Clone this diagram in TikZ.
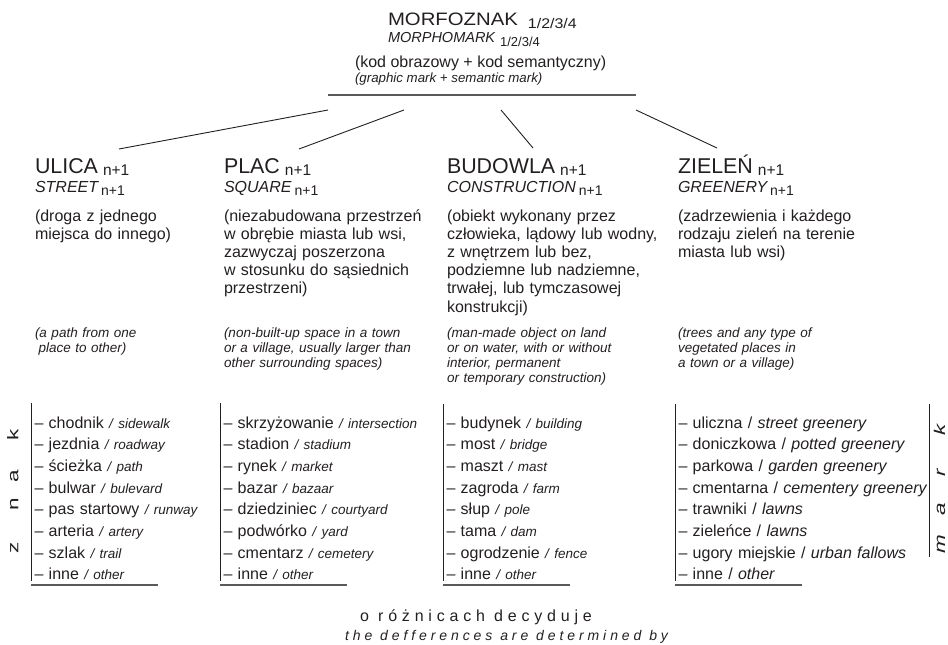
\documentclass[tikz,border=0pt]{standalone}
\usepackage{fontspec}
\setmainfont{Liberation Sans}
\newfontfamily\spacedfont[LetterSpace=30]{Liberation Sans}
\newfontfamily\spacedenfont[LetterSpace=28]{Liberation Sans}
\usepackage{graphicx}
\definecolor{ink}{HTML}{231F20}
\definecolor{rulegray}{HTML}{5A5A5A}
\newcommand{\fs}[2]{\fontsize{#1}{#2}\selectfont}
\newcommand{\en}[1]{{\fs{13.5}{15}\itshape #1}}
\newcommand{\hsub}[2]{\raisebox{-#1}{\fs{#2}{#2}\upshape n+1}}
\newcommand{\stretchl}[1]{\scalebox{1.45}[1]{#1}}
\tikzset{
  txt/.style={inner sep=0pt, outer sep=0pt, anchor=base west, text=ink},
  head/.style={txt, font=\fs{21.4}{21.4}},
  headen/.style={txt, font=\fs{16}{16}\itshape},
  descpl/.style={txt, font=\fs{16}{18.2}, text width=260pt, align=left},
  descen/.style={txt, font=\fs{13.5}{15}\itshape, text width=260pt, align=left},
  listbox/.style={txt, font=\fs{16}{21.7}, text width=270pt, align=left},
  conn/.style={draw=ink, line width=0.9pt},
  vbar/.style={draw=ink, line width=0.9pt},
  uline/.style={draw=rulegray, line width=1.5pt},
  rotl/.style={txt, anchor=base, rotate=90, font=\fs{15.5}{15.5}},
}
\begin{document}
\begin{tikzpicture}[x=1pt, y=-1pt]
\useasboundingbox (0,0) rectangle (948,645);
% title block
\node[txt, font=\fs{18}{18}] (title) at (388,25)
  {\scalebox{1.13}[1]{MORFOZNAK}\hspace{10pt}\raisebox{-3pt}{\scalebox{1.14}[1]{\fs{14}{14}1/2/3/4}}};
\node[txt, font=\fs{14.5}{14.5}\itshape] (titleen) at (388,42)
  {MORPHOMARK\hspace{5pt}\raisebox{-4pt}{\fs{13}{13}\upshape 1/2/3/4}};
\node[txt, font=\fs{16}{16}] (code) at (355,67) {(kod obrazowy + kod semantyczny)};
\node[txt, font=\fs{13.3}{13.3}\itshape] (codeen) at (355,82) {(graphic mark + semantic mark)};
\coordinate (tl) at (328,95);
\coordinate (tr) at (636,95);
\draw[uline] (tl) -- (tr);
% connectors
\coordinate (c1a) at (328,110); \coordinate (c1b) at (119,149);
\coordinate (c2a) at (404,110); \coordinate (c2b) at (299,149);
\coordinate (c3a) at (501,110); \coordinate (c3b) at (533,148);
\coordinate (c4a) at (636,110); \coordinate (c4b) at (717,148);
\draw[conn] (c1a) -- (c1b);
\draw[conn] (c2a) -- (c2b);
\draw[conn] (c3a) -- (c3b);
\draw[conn] (c4a) -- (c4b);
% headings
\node[head] (h1) at (35,173) {ULICA\hspace{5pt}\hsub{2pt}{15.5}};
\node[head] (h2) at (224,173) {PLAC\hspace{5pt}\hsub{2pt}{15.5}};
\node[head] (h3) at (447,173) {BUDOWLA\hspace{5pt}\hsub{2pt}{15.5}};
\node[head] (h4) at (678,173) {ZIELEŃ\hspace{5pt}\hsub{2pt}{15.5}};
\node[headen] (e1) at (35,192) {STREET\hspace{3pt}\hsub{3pt}{14}};
\node[headen] (e2) at (224,192) {SQUARE\hspace{3pt}\hsub{3pt}{14}};
\node[headen] (e3) at (447,192) {CONSTRUCTION\hspace{3pt}\hsub{3pt}{14}};
\node[headen] (e4) at (678,192) {GREENERY\hspace{3pt}\hsub{3pt}{14}};
% polish descriptions
\node[descpl] (d1) at (35,221) {(droga z jednego\\miejsca do innego)};
\node[descpl] (d2) at (224,221) {(niezabudowana przestrzeń\\w obrębie miasta lub wsi,\\zazwyczaj poszerzona\\w stosunku do sąsiednich\\przestrzeni)};
\node[descpl] (d3) at (447,221) {(obiekt wykonany przez\\człowieka, lądowy lub wodny,\\z wnętrzem lub bez,\\podziemne lub nadziemne,\\trwałej, lub tymczasowej\\konstrukcji)};
\node[descpl] (d4) at (678,221) {(zadrzewienia i każdego\\rodzaju zieleń na terenie\\miasta lub wsi)};
% english descriptions
\node[descen] (n1) at (35,337.5) {(a path from one\\\hspace*{3.5pt}place to other)};
\node[descen] (n2) at (224,337.5) {(non-built-up space in a town\\or a village, usually larger than\\other surrounding spaces)};
\node[descen] (n3) at (447,337.5) {(man-made object on land\\or on water, with or without\\interior, permanent\\or temporary construction)};
\node[descen] (n4) at (678,337.5) {(trees and any type of\\vegetated places in\\a town or a village)};
% lists
\node[listbox] (l1) at (34.5,428) {– chodnik \en{/ sidewalk}\\– jezdnia \en{/ roadway}\\– ścieżka \en{/ path}\\– bulwar \en{/ bulevard}\\– pas startowy \en{/ runway}\\– arteria \en{/ artery}\\– szlak \en{/ trail}\\– inne \en{/ other}};
\node[listbox] (l2) at (223.5,428) {– skrzyżowanie \en{/ intersection}\\– stadion \en{/ stadium}\\– rynek \en{/ market}\\– bazar \en{/ bazaar}\\– dziedziniec \en{/ courtyard}\\– podwórko \en{/ yard}\\– cmentarz \en{/ cemetery}\\– inne \en{/ other}};
\node[listbox] (l3) at (446.5,428) {– budynek \en{/ building}\\– most \en{/ bridge}\\– maszt \en{/ mast}\\– zagroda \en{/ farm}\\– słup \en{/ pole}\\– tama \en{/ dam}\\– ogrodzenie \en{/ fence}\\– inne \en{/ other}};
\node[listbox] (l4) at (678.5,428) {– uliczna / \textit{street greenery}\\– doniczkowa / \textit{potted greenery}\\– parkowa / \textit{garden greenery}\\– cmentarna / \textit{cementery greenery}\\– trawniki / \textit{lawns}\\– zieleńce / \textit{lawns}\\– ugory miejskie / \textit{urban fallows}\\– inne / \textit{other}};
% bars and underlines
\coordinate (b1t) at (31,403); \coordinate (b1b) at (31,581);
\coordinate (b2t) at (220,403); \coordinate (b2b) at (220,581);
\coordinate (b3t) at (443,404); \coordinate (b3b) at (443,581);
\coordinate (b4t) at (675,404); \coordinate (b4b) at (675,581);
\coordinate (b5t) at (929,404); \coordinate (b5b) at (929,557);
\draw[vbar] (b1t) -- (b1b);
\draw[vbar] (b2t) -- (b2b);
\draw[vbar] (b3t) -- (b3b);
\draw[vbar] (b4t) -- (b4b);
\draw[vbar] (b5t) -- (b5b);
\coordinate (u1a) at (31,585); \coordinate (u1b) at (158,585);
\coordinate (u2a) at (220,585); \coordinate (u2b) at (347,585);
\coordinate (u3a) at (443,585); \coordinate (u3b) at (570,585);
\coordinate (u4a) at (675,585); \coordinate (u4b) at (802,585);
\draw[uline] (u1a) -- (u1b);
\draw[uline] (u2a) -- (u2b);
\draw[uline] (u3a) -- (u3b);
\draw[uline] (u4a) -- (u4b);
% rotated words
\node[rotl] (zk) at (18.3,435) {\stretchl{k}};
\node[rotl] (za) at (18.3,476.5) {\stretchl{a}};
\node[rotl] (zn) at (18.3,504) {\stretchl{n}};
\node[rotl] (zz) at (18.3,547.5) {\stretchl{z}};
\node[rotl, font=\fs{15.5}{15.5}\itshape] (mk) at (945,430) {\stretchl{k}};
\node[rotl, font=\fs{15.5}{15.5}\itshape] (mr) at (945,472.5) {\stretchl{r}};
\node[rotl, font=\fs{15.5}{15.5}\itshape] (ma) at (945,509) {\stretchl{a}};
\node[rotl, font=\fs{15.5}{15.5}\itshape] (mm) at (945,544) {\stretchl{m}};
% bottom
\node[txt, font=\spacedfont\fs{16}{16}] (dec) at (360,621.5) {o różnicach decyduje};
\node[txt, font=\spacedenfont\fs{14}{14}\itshape] (decen) at (345,640) {the defferences are determined by};
\end{tikzpicture}
\end{document}
